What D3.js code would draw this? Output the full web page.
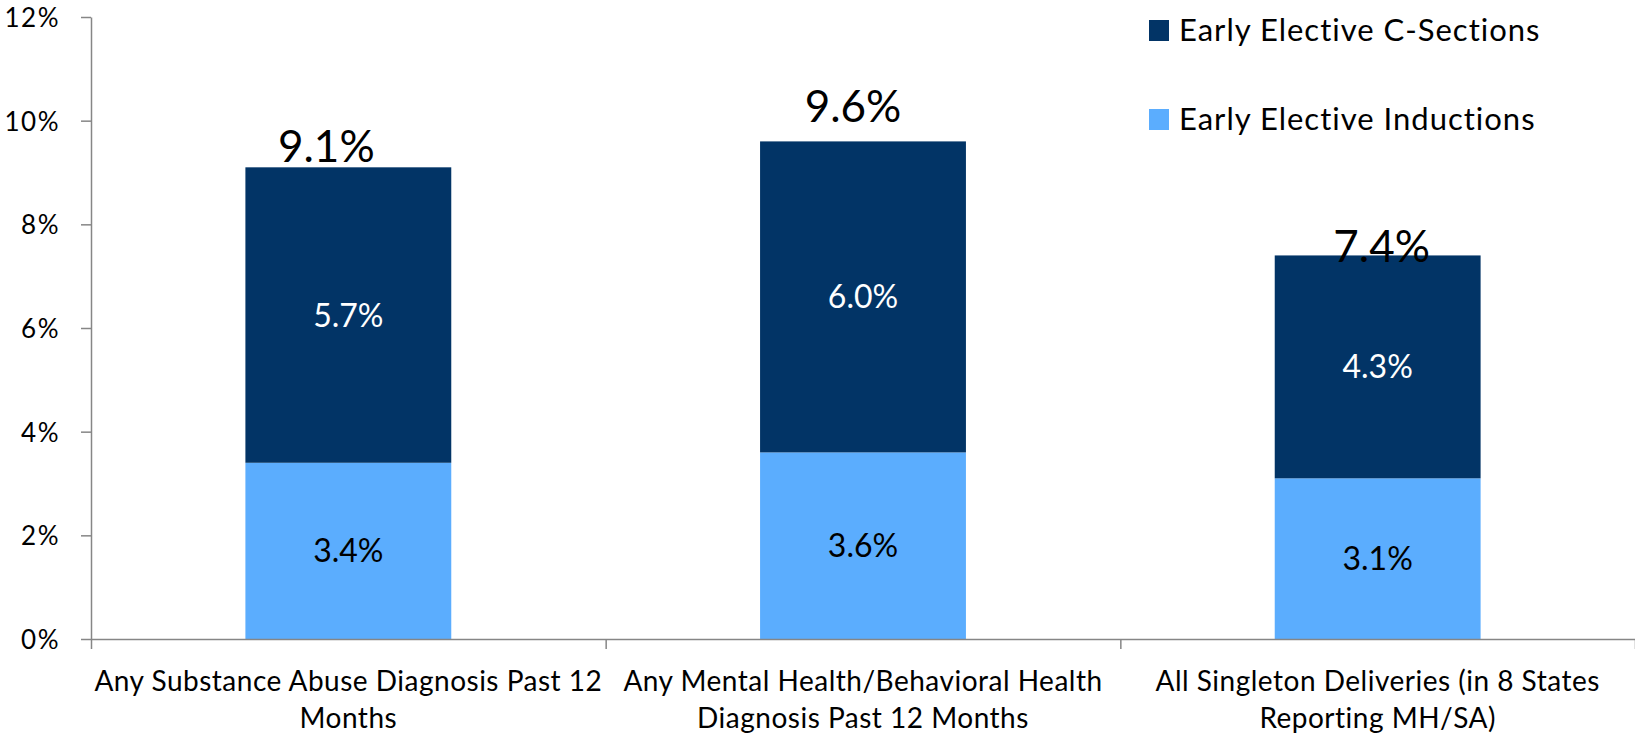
<!DOCTYPE html>
<html>
<head>
<meta charset="utf-8">
<script src="https://cdn.jsdelivr.net/npm/d3@7"></script>
<style>
  body { margin: 0; background: #fff; }
  text { font-family: Lato, "Noto Sans", sans-serif; fill: #000; }
  .axis path, .axis line { stroke: #868686; stroke-width: 1.5; }
</style>
</head>
<body>
<svg id="chart" width="1635" height="736"></svg>
<script>
// categories (as they wrap on the chart)
const categories = [
    "Any Substance Abuse Diagnosis Past 12 Months",
    "Any Mental Health/Behavioral Health Diagnosis Past 12 Months",
    "All Singleton Deliveries (in 8 States Reporting MH/SA)"
];
const categoryLines = [
    ["Any Substance Abuse Diagnosis Past 12", "Months"],
    ["Any Mental Health/Behavioral Health", "Diagnosis Past 12 Months"],
    ["All Singleton Deliveries (in 8 States", "Reporting MH/SA)"]
];

// series values (percent)
const inductions = [3.4, 3.6, 3.1];
const cSections = [5.7, 6.0, 4.3];
const totals = [9.1, 9.6, 7.4];

const seriesNames = ["Early Elective C-Sections", "Early Elective Inductions"];
const yTicks = [0, 2, 4, 6, 8, 10, 12];

const svg = d3.select("#chart");
const width = 1635;
const margin = { left: 91, top: 17, bottom: 97 };
const plotBottom = 736 - margin.bottom;

const color = { induct: "#5badfe", csec: "#023466" };

const x = d3.scaleBand()
    .domain(categories)
    .range([margin.left, width])
    .paddingInner(0.6)
    .paddingOuter(0.3);

const y = d3.scaleLinear()
    .domain([0, 12])
    .range([plotBottom, margin.top]);

// y axis
svg.append("g")
    .attr("class", "axis y")
    .attr("transform", "translate(" + margin.left + ",0)")
    .call(d3.axisLeft(y)
        .tickValues(yTicks)
        .tickFormat(d => d + "%")
        .tickSize(10)
        .tickSizeOuter(0)
        .tickPadding(21))
    .call(g => g.selectAll("text")
        .style("font-family", "Lato, sans-serif")
        .style("font-size", "26px")
        .style("letter-spacing", "1.5px")
        .attr("dy", "0.36em")
        .attr("fill", "#000"));

// stacked bars
const rows = categories.map((c, i) => ({ cat: c, induct: inductions[i], csec: cSections[i], total: totals[i] }));

const bars = svg.append("g");
bars.selectAll(".induct")
    .data(rows)
    .enter().append("rect")
    .attr("class", "induct")
    .attr("x", d => x(d.cat))
    .attr("width", x.bandwidth())
    .attr("y", d => y(d.induct))
    .attr("height", d => y(0) - y(d.induct))
    .style("fill", color.induct);

bars.selectAll(".csec")
    .data(rows)
    .enter().append("rect")
    .attr("class", "csec")
    .attr("x", d => x(d.cat))
    .attr("width", x.bandwidth())
    .attr("y", d => y(d.induct + d.csec))
    .attr("height", d => y(d.induct) - y(d.induct + d.csec))
    .style("fill", color.csec);

// x axis: line with ticks on the category boundaries
const xEdge = d3.scaleLinear().domain([0, categories.length]).range([margin.left, width]);
svg.append("g")
    .attr("class", "axis x")
    .attr("transform", "translate(0," + plotBottom + ")")
    .call(d3.axisBottom(xEdge)
        .tickValues(d3.range(categories.length + 1))
        .tickFormat("")
        .tickSize(10)
        .tickSizeOuter(0));

// segment labels
const segLabels = svg.append("g").style("font-size", "32px").attr("text-anchor", "middle");
segLabels.selectAll(".lab-i")
    .data(rows)
    .enter().append("text")
    .attr("x", d => x(d.cat) + x.bandwidth() / 2)
    .attr("y", d => y(d.induct / 2))
    .attr("dy", "0.36em")
    .text(d => d.induct.toFixed(1) + "%");
segLabels.selectAll(".lab-c")
    .data(rows)
    .enter().append("text")
    .attr("x", d => x(d.cat) + x.bandwidth() / 2)
    .attr("y", d => y(d.induct + d.csec / 2))
    .attr("dy", "0.36em")
    .style("fill", "#fff")
    .text(d => d.csec.toFixed(1) + "%");

// totals above the bars (nudged like the original)
const totalNudge = [[-22, -5], [-10, -19], [4, 7]];
svg.append("g").style("font-size", "44px").attr("text-anchor", "middle")
    .selectAll("text")
    .data(rows)
    .enter().append("text")
    .attr("x", (d, i) => x(d.cat) + x.bandwidth() / 2 + totalNudge[i][0])
    .attr("y", (d, i) => y(d.total) + totalNudge[i][1])
    .text(d => d.total.toFixed(1) + "%");

// category labels
const catG = svg.append("g")
    .style("font-size", "28px")
    .style("letter-spacing", "0.5px")
    .attr("text-anchor", "middle");
categories.forEach((c, i) => {
    const t = catG.append("text")
        .attr("x", x(c) + x.bandwidth() / 2)
        .attr("y", plotBottom + 52);
    categoryLines[i].forEach((line, j) => {
        t.append("tspan")
            .attr("x", x(c) + x.bandwidth() / 2)
            .attr("dy", j === 0 ? 0 : 37)
            .text(line);
    });
});

// legend
const legend = svg.append("g").attr("transform", "translate(1149,20)");
const legendColors = [color.csec, color.induct];
seriesNames.forEach((name, i) => {
    const g = legend.append("g").attr("transform", "translate(0," + (i * 89) + ")");
    g.append("rect").attr("width", 20).attr("height", 21).style("fill", legendColors[i]);
    g.append("text")
        .attr("x", 30)
        .attr("y", 21)
        .style("font-size", "31px")
        .style("letter-spacing", "1px")
        .text(name);
});
</script>
</body>
</html>
